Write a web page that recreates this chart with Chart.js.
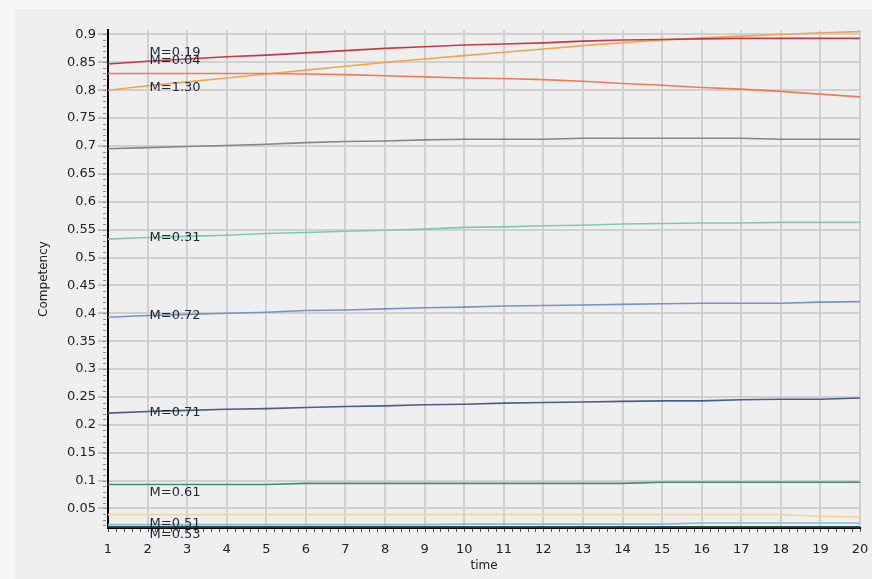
<!DOCTYPE html>
<html>
<head>
<meta charset="utf-8">
<script src="https://cdn.jsdelivr.net/npm/chart.js@4.4.0/dist/chart.umd.min.js"></script>
<style>
  html, body { margin: 0; padding: 0; background: #f6f6f6; }
  #frame { position: absolute; left: 13px; top: 8px; width: 859px; height: 571px; background: #efefef; border-left: 1px solid #fafafa; border-top: 1px solid #fafafa; }
  #wrap { position: absolute; left: 0; top: 0; width: 872px; height: 579px; }
</style>
</head>
<body>
<div id="frame"></div>
<div id="wrap"><canvas id="chart" width="872" height="579"></canvas></div>
<script>
// time steps on the x axis
const timeSteps = [1,2,3,4,5,6,7,8,9,10,11,12,13,14,15,16,17,18,19,20];

// y axis tick values
const yTicks = [0.05,0.1,0.15,0.2,0.25,0.3,0.35,0.4,0.45,0.5,0.55,0.6,0.65,0.7,0.75,0.8,0.85,0.9];

// competency curves, one per group
const redSeries    = [0.847,0.852,0.856,0.860,0.863,0.867,0.871,0.875,0.878,0.881,0.883,0.885,0.888,0.890,0.891,0.892,0.893,0.893,0.893,0.893];
const coralSeries  = [0.830,0.830,0.830,0.830,0.830,0.829,0.828,0.826,0.824,0.822,0.821,0.819,0.816,0.812,0.809,0.805,0.802,0.798,0.793,0.788];
const orangeSeries = [0.800,0.808,0.815,0.822,0.829,0.836,0.843,0.850,0.856,0.862,0.868,0.874,0.880,0.885,0.890,0.894,0.897,0.900,0.903,0.905];
const greySeries   = [0.695,0.697,0.699,0.701,0.703,0.706,0.708,0.709,0.711,0.712,0.712,0.712,0.714,0.714,0.714,0.714,0.714,0.712,0.712,0.712];
const tealSeries   = [0.533,0.536,0.538,0.540,0.543,0.545,0.547,0.549,0.551,0.554,0.555,0.557,0.558,0.560,0.561,0.562,0.562,0.563,0.563,0.563];
const blueSeries   = [0.393,0.396,0.398,0.400,0.402,0.405,0.406,0.408,0.410,0.411,0.413,0.414,0.415,0.416,0.417,0.418,0.418,0.418,0.420,0.421];
const navySeries   = [0.221,0.224,0.226,0.228,0.229,0.231,0.233,0.234,0.236,0.237,0.239,0.240,0.241,0.242,0.243,0.243,0.245,0.246,0.246,0.248];
const greenSeries  = [0.093,0.093,0.093,0.093,0.093,0.095,0.095,0.095,0.095,0.095,0.095,0.095,0.095,0.095,0.097,0.097,0.097,0.097,0.097,0.097];
const sandSeries   = [0.039,0.039,0.039,0.039,0.039,0.039,0.039,0.039,0.039,0.039,0.039,0.039,0.039,0.039,0.039,0.039,0.039,0.039,0.036,0.035];
const skySeries    = [0.021,0.021,0.021,0.021,0.021,0.021,0.021,0.021,0.021,0.022,0.022,0.022,0.022,0.022,0.022,0.024,0.024,0.024,0.024,0.024];
const darkSeries   = [0.017,0.017,0.017,0.017,0.017,0.017,0.017,0.017,0.017,0.017,0.017,0.017,0.017,0.017,0.017,0.017,0.017,0.017,0.017,0.017];

// group names and where each name sits (y value at time step 2)
const groupNames = ['M=0.19','M=0.04','M=1.30',null,'M=0.31','M=0.72','M=0.71','M=0.61',null,'M=0.51','M=0.53'];
const nameLevels = [0.867,0.853,0.804,null,0.535,0.396,0.222,0.078,null,0.023,0.003];

const seriesList  = [redSeries, coralSeries, orangeSeries, greySeries, tealSeries, blueSeries, navySeries, greenSeries, sandSeries, skySeries, darkSeries];
const seriesColors = ['#c43a46','#f07a58','#f2a54a','#858585','#7cc9b0','#7a92c8','#4c5c8c','#3d8f72','#f5d49a','#8cbccb','#24505a'];

const datasets = seriesList.map((s, i) => ({
  label: groupNames[i] || '',
  data: s,
  borderColor: seriesColors[i],
  borderWidth: 1.6,
  pointRadius: 0,
  tension: 0,
  fill: false
}));

// small minor tick marks along both axes
const minorTicks = {
  id: 'minorTicks',
  afterDraw(chart) {
    const {ctx, chartArea: a, scales: {x, y}} = chart;
    ctx.save();
    ctx.lineWidth = 1;
    ctx.strokeStyle = '#555';
    const n = (timeSteps.length - 1) * 5;
    for (let i = 0; i <= n; i++) {
      const px = Math.round(a.left + (a.right - a.left) * i / n) + 0.5;
      ctx.beginPath();
      ctx.moveTo(px, a.bottom + 1);
      ctx.lineTo(px, a.bottom + 4);
      ctx.stroke();
    }
    ctx.strokeStyle = '#8a8a8a';
    for (let v = 0.02; v <= 0.905; v += 0.01) {
      const py = Math.round(y.getPixelForValue(v)) + 0.5;
      ctx.beginPath();
      ctx.moveTo(a.left - 5, py);
      ctx.lineTo(a.left - 2, py);
      ctx.stroke();
    }
    ctx.restore();
  }
};

// group names written next to their curves
const groupLabels = {
  id: 'groupLabels',
  afterDraw(chart) {
    const {ctx, scales: {x, y}} = chart;
    ctx.save();
    ctx.font = '13px "DejaVu Sans"';
    ctx.fillStyle = '#1c2838';
    ctx.textAlign = 'left';
    ctx.textBaseline = 'middle';
    const px = x.getPixelForValue(1) + 2;
    groupNames.forEach((name, i) => {
      if (!name) return;
      ctx.fillText(name, px, y.getPixelForValue(nameLevels[i]));
    });
    ctx.restore();
  }
};

new Chart(document.getElementById('chart'), {
  type: 'line',
  data: { labels: timeSteps, datasets },
  options: {
    responsive: false,
    animation: false,
    devicePixelRatio: 1,
    layout: { padding: { left: 0, top: 30, right: 12, bottom: 0 } },
    plugins: { legend: { display: false }, tooltip: { enabled: false } },
    scales: {
      x: {
        type: 'category',
        offset: false,
        afterFit(scale) { scale.height = 51; },
        grid: { color: '#d0d0d0', lineWidth: 2, tickLength: 11, tickColor: 'rgba(0,0,0,0)', tickWidth: 1 },
        border: { color: '#000', width: 2 },
        ticks: { color: '#222', font: { family: 'DejaVu Sans', size: 13 }, padding: 3, maxRotation: 0, autoSkip: false },
        title: { display: true, text: 'time', color: '#222', font: { family: 'DejaVu Sans', size: 12 }, padding: { top: 0, bottom: 6 } }
      },
      y: {
        type: 'linear',
        min: 0.015,
        max: 0.908,
        afterFit(scale) { scale.width = 108; },
        afterBuildTicks(scale) { scale.ticks = yTicks.map(v => ({ value: v })); },
        grid: { color: '#d0d0d0', lineWidth: 2, tickLength: 10, tickColor: '#c4c4c4', tickWidth: 2 },
        border: { color: '#000', width: 2 },
        ticks: {
          color: '#222',
          font: { family: 'DejaVu Sans', size: 13 },
          padding: 2,
          callback: v => String(+v.toFixed(2))
        },
        title: { display: true, text: 'Competency', color: '#222', font: { family: 'DejaVu Sans', size: 12 }, padding: { top: 37, bottom: 0 } }
      }
    }
  },
  plugins: [minorTicks, groupLabels]
});
</script>
</body>
</html>
